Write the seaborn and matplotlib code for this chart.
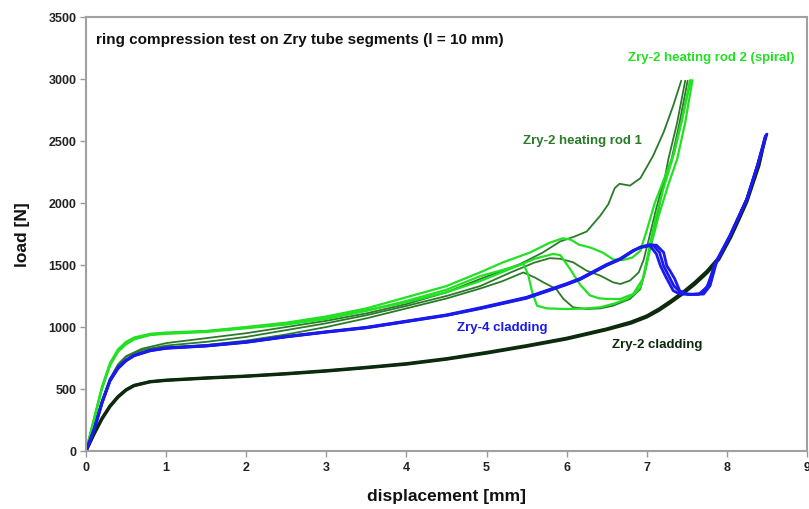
import matplotlib
matplotlib.use("Agg")
import matplotlib.pyplot as plt
import seaborn as sns
import pandas as pd

# ---------------- data ----------------
# Zry-2 heating rod 2 (spiral) - light green
lg_a_d = [0, 0.1, 0.2, 0.3, 0.4, 0.5, 0.6, 0.8, 1.0, 1.5, 2.0, 2.5, 3.0, 3.5, 4.0, 4.5, 4.92, 5.2, 5.54, 5.79, 5.95, 6.05, 6.15, 6.3, 6.45, 6.58, 6.7, 6.82, 6.92, 7.0, 7.1, 7.22, 7.34, 7.45, 7.54]
lg_a_f = [0, 260, 520, 710, 820, 880, 915, 945, 955, 968, 1000, 1035, 1085, 1150, 1240, 1330, 1441, 1520, 1600, 1680, 1715, 1705, 1665, 1640, 1600, 1545, 1540, 1560, 1615, 1780, 2000, 2200, 2400, 2700, 2990]
lg_b_d = [0, 0.1, 0.2, 0.3, 0.4, 0.5, 0.6, 0.8, 1.0, 1.5, 2.0, 2.5, 3.0, 3.5, 4.0, 4.5, 4.92, 5.2, 5.46, 5.52, 5.57, 5.63, 5.75, 6.0, 6.2, 6.42, 6.6, 6.75, 6.85, 6.92, 6.98, 7.05, 7.15, 7.27, 7.38, 7.48, 7.57]
lg_b_f = [0, 250, 500, 690, 800, 860, 900, 935, 945, 960, 990, 1020, 1065, 1130, 1210, 1300, 1410, 1460, 1508, 1420, 1280, 1172, 1150, 1145, 1148, 1159, 1190, 1226, 1270, 1320, 1450, 1650, 1900, 2150, 2355, 2650, 2990]
lg_c_d = [0, 0.1, 0.2, 0.3, 0.4, 0.5, 0.6, 0.8, 1.0, 1.5, 2.0, 2.5, 3.0, 3.5, 4.0, 4.5, 4.92, 5.3, 5.6, 5.83, 5.92, 6.04, 6.17, 6.29, 6.4, 6.5, 6.67, 6.83, 6.95, 7.02, 7.1, 7.2, 7.32, 7.43, 7.55]
lg_c_f = [0, 255, 510, 700, 810, 870, 905, 940, 950, 965, 995, 1025, 1070, 1135, 1200, 1280, 1370, 1470, 1550, 1589, 1580, 1470, 1340, 1255, 1232, 1226, 1226, 1266, 1387, 1600, 1850, 2100, 2355, 2650, 2990]

# Zry-2 heating rod 1 - dark green
dg_a_d = [0, 0.1, 0.2, 0.3, 0.4, 0.5, 0.7, 1.0, 1.5, 2.0, 2.5, 3.0, 3.5, 4.0, 4.5, 4.92, 5.42, 5.7, 5.92, 6.1, 6.25, 6.42, 6.52, 6.6, 6.66, 6.79, 6.92, 7.0, 7.08, 7.21, 7.33, 7.43]
dg_a_f = [0, 195, 410, 585, 700, 765, 825, 870, 910, 950, 1000, 1050, 1110, 1185, 1280, 1387, 1508, 1600, 1690, 1730, 1770, 1898, 1990, 2120, 2155, 2140, 2200, 2290, 2382, 2570, 2785, 2986]
dg_b_d = [0, 0.1, 0.2, 0.3, 0.4, 0.5, 0.7, 1.0, 1.5, 2.0, 2.5, 3.0, 3.5, 4.0, 4.5, 4.92, 5.2, 5.46, 5.6, 5.71, 5.87, 5.96, 6.08, 6.25, 6.42, 6.58, 6.79, 6.92, 6.98, 7.05, 7.15, 7.27, 7.38, 7.48]
dg_b_f = [0, 185, 390, 560, 670, 735, 800, 835, 855, 890, 940, 1000, 1070, 1150, 1230, 1310, 1370, 1440, 1400, 1360, 1306, 1226, 1159, 1145, 1150, 1172, 1226, 1306, 1450, 1680, 1950, 2355, 2650, 2986]
dg_c_d = [0, 0.1, 0.2, 0.3, 0.4, 0.5, 0.7, 1.0, 1.5, 2.0, 2.5, 3.0, 3.5, 4.0, 4.5, 4.92, 5.3, 5.6, 5.79, 5.92, 6.08, 6.25, 6.42, 6.58, 6.67, 6.79, 6.9, 6.96, 7.03, 7.12, 7.2, 7.31, 7.41, 7.51]
dg_c_f = [0, 190, 400, 575, 690, 760, 815, 850, 880, 920, 975, 1030, 1095, 1170, 1250, 1330, 1440, 1520, 1555, 1550, 1522, 1454, 1414, 1360, 1347, 1374, 1441, 1540, 1720, 1960, 2150, 2355, 2650, 2986]

# Zry-4 cladding - blue
b1_d = [0, 0.1, 0.2, 0.3, 0.4, 0.5, 0.6, 0.8, 1.0, 1.5, 2.0, 2.5, 3.0, 3.5, 4.0, 4.5, 4.92, 5.5, 6.0, 6.17, 6.5, 6.67, 6.83, 6.92, 7.04, 7.12, 7.21, 7.25, 7.29, 7.35, 7.41, 7.5, 7.6, 7.71, 7.79, 7.87, 8.04, 8.25, 8.38, 8.5]
b1_f = [0, 170, 390, 570, 670, 730, 770, 810, 830, 848, 878, 922, 960, 995, 1045, 1095, 1151, 1235, 1345, 1387, 1500, 1548, 1615, 1643, 1661, 1660, 1602, 1494, 1454, 1387, 1293, 1266, 1262, 1266, 1333, 1522, 1736, 2032, 2300, 2556]
b2_d = [0, 0.1, 0.2, 0.3, 0.4, 0.5, 0.6, 0.8, 1.0, 1.5, 2.0, 2.5, 3.0, 3.5, 4.0, 4.5, 4.92, 5.5, 6.0, 6.17, 6.5, 6.67, 6.83, 6.92, 7.04, 7.12, 7.17, 7.23, 7.33, 7.41, 7.55, 7.68, 7.77, 7.85, 8.04, 8.25, 8.38, 8.48]
b2_f = [0, 175, 395, 575, 675, 735, 772, 812, 832, 850, 880, 924, 962, 998, 1048, 1098, 1155, 1240, 1350, 1392, 1505, 1552, 1618, 1640, 1655, 1589, 1494, 1414, 1293, 1266, 1262, 1270, 1340, 1510, 1740, 2035, 2300, 2540]
b3_d = [0, 0.1, 0.2, 0.3, 0.4, 0.5, 0.6, 0.8, 1.0, 1.5, 2.0, 2.5, 3.0, 3.5, 4.0, 4.5, 4.92, 5.5, 6.0, 6.17, 6.5, 6.67, 6.83, 6.92, 7.04, 7.08, 7.16, 7.21, 7.26, 7.34, 7.42, 7.52, 7.65, 7.75, 7.86, 8.04, 8.25, 8.38, 8.49]
b3_f = [0, 165, 385, 565, 665, 727, 768, 808, 828, 846, 876, 920, 958, 993, 1043, 1093, 1148, 1232, 1342, 1384, 1497, 1545, 1612, 1645, 1663, 1660, 1600, 1494, 1430, 1330, 1280, 1264, 1265, 1320, 1515, 1738, 2033, 2300, 2550]

# Zry-2 cladding - near-black green
k1_d = [0, 0.1, 0.2, 0.3, 0.4, 0.5, 0.6, 0.8, 1.0, 1.5, 2.0, 2.5, 3.0, 3.5, 4.0, 4.5, 5.0, 5.5, 6.0, 6.5, 6.8, 7.0, 7.15, 7.3, 7.45, 7.6, 7.75, 7.9, 8.05, 8.15, 8.25, 8.4, 8.48]
k1_f = [0, 140, 265, 365, 440, 495, 530, 560, 572, 590, 605, 625, 648, 675, 705, 745, 795, 850, 910, 985, 1040, 1090, 1145, 1210, 1280, 1360, 1450, 1560, 1740, 1880, 2030, 2320, 2530]
k2_d = [0, 0.1, 0.2, 0.3, 0.4, 0.5, 0.6, 0.8, 1.0, 1.5, 2.0, 2.5, 3.0, 3.5, 4.0, 4.5, 5.0, 5.5, 6.0, 6.5, 6.8, 7.0, 7.15, 7.3, 7.45, 7.6, 7.75, 7.9, 8.05, 8.15, 8.25, 8.4, 8.47]
k2_f = [0, 135, 258, 358, 434, 490, 526, 557, 569, 587, 602, 621, 644, 671, 700, 740, 789, 844, 903, 978, 1030, 1080, 1133, 1198, 1268, 1345, 1435, 1545, 1725, 1865, 2010, 2300, 2500]

x_ticks = [0, 1, 2, 3, 4, 5, 6, 7, 8, 9]
y_ticks = [0, 500, 1000, 1500, 2000, 2500, 3000, 3500]

title_text = "ring compression test on Zry tube segments (l = 10 mm)"
lbl_rod2 = "Zry-2 heating rod 2 (spiral)"
lbl_rod1 = "Zry-2 heating rod 1"
lbl_zry4 = "Zry-4 cladding"
lbl_zry2 = "Zry-2 cladding"

# ---------------- build long-form table ----------------
series = [
    ("Zry-2 cladding", "k1", k1_d, k1_f),
    ("Zry-2 cladding", "k2", k2_d, k2_f),
    ("Zry-4 cladding", "b1", b1_d, b1_f),
    ("Zry-4 cladding", "b2", b2_d, b2_f),
    ("Zry-4 cladding", "b3", b3_d, b3_f),
    ("rod 1", "dga", dg_a_d, dg_a_f),
    ("rod 1", "dgb", dg_b_d, dg_b_f),
    ("rod 1", "dgc", dg_c_d, dg_c_f),
    ("rod 2", "lga", lg_a_d, lg_a_f),
    ("rod 2", "lgb", lg_b_d, lg_b_f),
    ("rod 2", "lgc", lg_c_d, lg_c_f),
]
rows = []
for grp, spec, ds, fs in series:
    for i, (d, f) in enumerate(zip(ds, fs)):
        rows.append({"group": grp, "specimen": spec, "order": i, "d": d, "load": f})
df = pd.DataFrame(rows)

c_rod2 = "#22e022"
c_rod1 = "#2a7a2a"
c_zry4 = "#1a1aee"
c_zry2 = "#0c2a0c"
palette = {"rod 2": c_rod2, "rod 1": c_rod1, "Zry-4 cladding": c_zry4, "Zry-2 cladding": c_zry2}
widths = {"rod 2": 1.6, "rod 1": 1.3, "Zry-4 cladding": 2.0, "Zry-2 cladding": 2.2}

sns.set_theme(style="white")
plt.rcParams["font.family"] = ["Liberation Sans", "DejaVu Sans"]

fig = plt.figure(figsize=(8.09, 5.10), dpi=100)
ax = fig.add_axes([86 / 809, 58 / 510, 721 / 809, 434 / 510])

for grp in ["Zry-2 cladding", "rod 1", "rod 2", "Zry-4 cladding"]:
    sub = df[df["group"] == grp]
    sns.lineplot(data=sub, x="d", y="load", units="specimen", estimator=None,
                 sort=False, color=palette[grp], linewidth=widths[grp], ax=ax,
                 legend=False)

ax.set_xlim(0, 9)
ax.set_ylim(0, 3500)
ax.set_xticks(x_ticks)
ax.set_yticks(y_ticks)
ax.set_xticklabels([str(t) for t in x_ticks], fontsize=9, fontweight="bold", color="#222222")
ax.set_yticklabels([str(t) for t in y_ticks], fontsize=9, fontweight="bold", color="#222222")
ax.tick_params(axis="both", direction="out", length=4, width=1, color="#999999", pad=3,
               bottom=True, left=True)
for s in ax.spines.values():
    s.set_color("#a0a0a0")
    s.set_linewidth(1.5)
ax.set_xlabel("displacement [mm]", fontsize=12.5, fontweight="bold", color="#111111", labelpad=11)
ax.set_ylabel("load [N]", fontsize=12.5, fontweight="bold", color="#111111", labelpad=13)

ax.text(0.125, 3323, title_text, fontsize=11, color="#111111", ha="left", va="center",
        fontweight="semibold")
ax.text(6.77, 3177, lbl_rod2, fontsize=9.5, color=c_rod2, fontweight="bold", ha="left", va="center")
ax.text(5.46, 2508, lbl_rod1, fontsize=9.5, color=c_rod1, fontweight="bold", ha="left", va="center")
ax.text(4.63, 1000, lbl_zry4, fontsize=9.5, color=c_zry4, fontweight="bold", ha="left", va="center")
ax.text(6.57, 863, lbl_zry2, fontsize=9.5, color=c_zry2, fontweight="bold", ha="left", va="center")

fig.savefig("out.png", dpi=100, facecolor="white")
